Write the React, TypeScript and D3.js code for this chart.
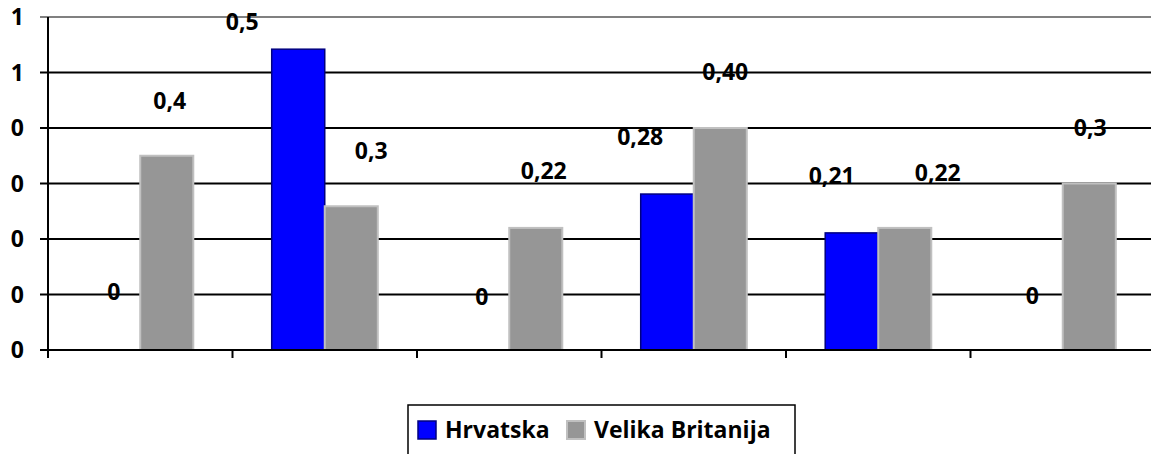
import React from 'react';
import * as d3 from 'd3';

const categories = ['1', '2', '3', '4', '5', '6'];
const hrvatska = [0, 0.542, 0, 0.281, 0.211, 0];
const velikaBritanija = [0.35, 0.259, 0.22, 0.4, 0.22, 0.3];
const hrvatskaLabels = ['0', '0,5', '0', '0,28', '0,21', '0'];
const britanijaLabels = ['0,4', '0,3', '0,22', '0,40', '0,22', '0,3'];
const yTicks = [0, 0.1, 0.2, 0.3, 0.4, 0.5, 0.6];
// labels were dragged around by hand in the original, so keep their nudges
const hrvatskaNudge = [[0, -58], [-56, -27], [-1, -53], [-27, -57], [-20, -57], [-4, -54]];
const britanijaNudge = [[3, -55], [20, -56], [8, -57], [5, -56], [33, -55], [1, -56]];

const W = 1151;
const H = 454;
const margin = { top: 17, right: -4, bottom: 104, left: 48 };
const font = '"Open Sans", "DejaVu Sans", sans-serif';
const fs = 23;

export default function App() {
  const innerW = W - margin.left - margin.right;
  const innerH = H - margin.top - margin.bottom;

  const x = d3.scaleBand().domain(categories).range([0, innerW]).paddingInner(0).paddingOuter(0);
  const y = d3.scaleLinear().domain([0, 0.6]).range([innerH, 0]);
  const barW = x.bandwidth() * 0.2875;
  const mid = (c: string) => (x(c) as number) + x.bandwidth() / 2;

  const fmt = (v: number) => String(Math.round(v));

  return (
    <svg width={W} height={H} style={{ position: 'absolute', left: 0, top: 0, background: '#fff' }}>
      <g transform={`translate(${margin.left},${margin.top})`}>
        {/* grid lines */}
        {yTicks.map((t, i) => (
          <g key={'g' + i}>
            <line x1={-8} x2={innerW} y1={y(t)} y2={y(t)}
              stroke={t === 0.6 ? '#808080' : '#000'} strokeWidth={2} />
            <text x={-24} y={y(t)} dy="0.36em" textAnchor="end" fontFamily={font}
              fontWeight={700} fontSize={fs} fill="#000">{fmt(t)}</text>
          </g>
        ))}
        {/* left axis */}
        <line x1={0} x2={0} y1={0} y2={innerH + 8} stroke="#000" strokeWidth={2} />
        {categories.map((c, i) => (
          <line key={'t' + i} x1={x(c) as number} x2={x(c) as number} y1={innerH} y2={innerH + 8}
            stroke="#000" strokeWidth={2} />
        ))}
        {/* bars */}
        {categories.map((c, i) => (
          <g key={'b' + i}>
            <rect x={mid(c) - barW} y={y(hrvatska[i])} width={barW} height={innerH - y(hrvatska[i])}
              fill="#0000ff" stroke="#000080" strokeWidth={1.5} />
            <rect x={mid(c)} y={y(velikaBritanija[i])} width={barW} height={innerH - y(velikaBritanija[i])}
              fill="#969696" stroke="#c0c0c0" strokeWidth={2} />
          </g>
        ))}
        <line x1={0} x2={innerW} y1={innerH} y2={innerH} stroke="#000" strokeWidth={2} />
        {/* data labels */}
        {categories.map((c, i) => (
          <g key={'l' + i} fontFamily={font} fontWeight={700} fontSize={fs} fill="#000" textAnchor="middle">
            <text x={mid(c) - barW / 2 + hrvatskaNudge[i][0]} y={y(hrvatska[i]) + hrvatskaNudge[i][1]} dy="0.36em">
              {hrvatskaLabels[i]}
            </text>
            <text x={mid(c) + barW / 2 + britanijaNudge[i][0]} y={y(velikaBritanija[i]) + britanijaNudge[i][1]} dy="0.36em">
              {britanijaLabels[i]}
            </text>
          </g>
        ))}
      </g>
      {/* legend */}
      <g transform="translate(408,405)">
        <rect x={0} y={0} width={387} height={60} fill="#fff" stroke="#000" strokeWidth={1.5} />
        <rect x={10} y={16} width={18} height={18} fill="#0000ff" stroke="#000080" strokeWidth={1.5} />
        <text x={37} y={25} dy="0.36em" fontFamily={font} fontWeight={700} fontSize={fs}>Hrvatska</text>
        <rect x={159} y={16} width={18} height={18} fill="#969696" stroke="#c0c0c0" strokeWidth={2} />
        <text x={186} y={25} dy="0.36em" fontFamily={font} fontWeight={700} fontSize={fs}>Velika Britanija</text>
      </g>
    </svg>
  );
}
